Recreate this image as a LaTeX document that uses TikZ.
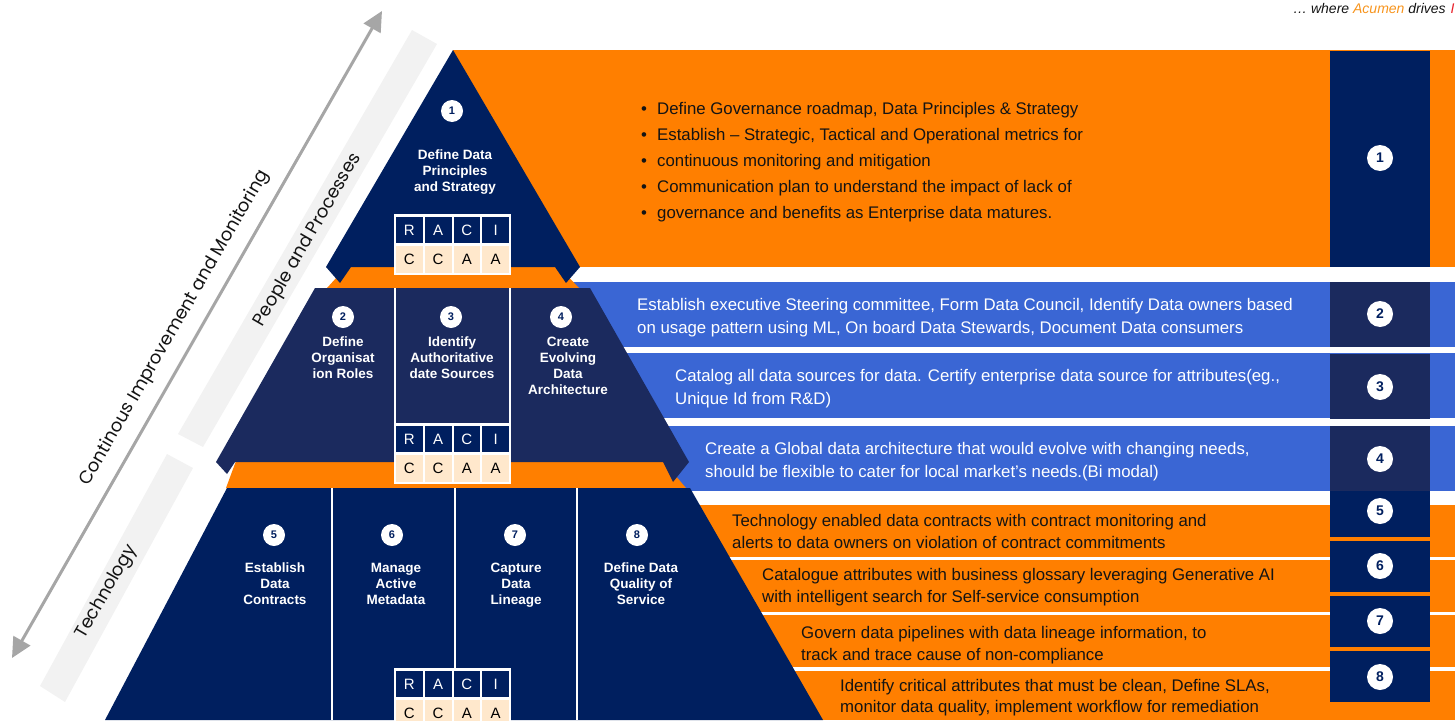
\documentclass[tikz,border=0pt]{standalone}
\usepackage{fontspec}
\setmainfont{Liberation Sans}
\newfontfamily\popfont{Poppins}
\usetikzlibrary{arrows.meta}
\definecolor{navy}{HTML}{001F5F}
\definecolor{midnavy}{HTML}{1B2A5E}
\definecolor{orng}{HTML}{FF7F00}
\definecolor{blu}{HTML}{3A66D4}
\definecolor{stripgray}{HTML}{F2F2F2}
\definecolor{arrowgray}{HTML}{A6A6A6}
\definecolor{peach}{HTML}{FFE8CC}
\definecolor{ink}{HTML}{141414}
\definecolor{acumen}{HTML}{F7941D}
\definecolor{tagred}{HTML}{E8202A}
\tikzset{
 numc/.style={circle, fill=white, inner sep=0pt, minimum size=22pt, text=navy, font=\bfseries\fontsize{11}{11}\selectfont},
 bignumc/.style={circle, fill=white, inner sep=0pt, minimum size=26pt, text=navy, font=\bfseries\fontsize{14}{14}\selectfont},
 plabel/.style={text=white, align=center, anchor=north, inner sep=0pt, font=\bfseries\fontsize{13.5}{16}\selectfont},
 racitop/.style={rectangle, fill=navy, text=white, minimum width=26.75pt, minimum height=26.75pt, inner sep=0pt, font=\fontsize{15}{15}\selectfont},
 racibot/.style={racitop, fill=peach, text=black},
 bandtxt/.style={anchor=base west, inner sep=0pt, font=\fontsize{16.8}{20}\selectfont},
 darktxt/.style={bandtxt, text=ink},
 lighttxt/.style={bandtxt, text=white},
 sidelabel/.style={rotate=60, text=ink, font=\popfont\fontsize{18}{18}\selectfont, inner sep=0pt},
 divider/.style={white, line width=2.2pt},
 tagtxt/.style={anchor=base west, inner sep=0pt, font=\itshape\fontsize{14}{14}\selectfont},
}
\newcommand\racitable[3]{%
  \fill[white] (#2,#3) rectangle ++(117,61);
  \node[racitop] (#1h1) at (#2+15.375,#3+15.875) {R};
  \node[racitop] (#1h2) at (#2+44.125,#3+15.875) {A};
  \node[racitop] (#1h3) at (#2+72.875,#3+15.875) {C};
  \node[racitop] (#1h4) at (#2+101.625,#3+15.875) {I};
  \node[racibot] (#1v1) at (#2+15.375,#3+45.125) {C};
  \node[racibot] (#1v2) at (#2+44.125,#3+45.125) {C};
  \node[racibot] (#1v3) at (#2+72.875,#3+45.125) {A};
  \node[racibot] (#1v4) at (#2+101.625,#3+45.125) {A};
}
\newcommand\bul{\makebox[16pt][l]{\textbullet}}
\begin{document}
\begin{tikzpicture}[x=1pt,y=-1pt]
\useasboundingbox (0,0) rectangle (1455,720);
% grey strips
\fill[stripgray] (412,30) -- (437,44) -- (203,447) -- (178,434) -- cycle;
\fill[stripgray] (167,454) -- (193,468) -- (65,702) -- (40,686) -- cycle;
% double arrow
\coordinate (arrTop) at (382,11);
\coordinate (arrBot) at (12,658);
\draw[arrowgray, line width=3pt, {Triangle[length=20pt,width=19pt]}-{Triangle[length=20pt,width=19pt]}] (arrBot) -- (arrTop);
\node[sidelabel] (lblCI) at (175,328) {Continous Improvement and Monitoring};
\node[sidelabel] (lblPP) at (308,240) {People and Processes};
\node[sidelabel] (lblT) at (107,592) {Technology};
% right bands
\fill[orng] (453,50) rectangle (1455,267);
\fill[blu] (560,282) rectangle (1455,347);
\fill[blu] (560,353) rectangle (1455,418);
\fill[blu] (560,426) rectangle (1455,491);
\fill[orng] (680,505) rectangle (1455,557);
\fill[orng] (680,560) rectangle (1455,612);
\fill[orng] (680,615) rectangle (1455,667);
\fill[orng] (680,671) rectangle (1455,720);
\fill[orng] (1330,505) rectangle (1430,720);
% inter-tier orange bands
\fill[orng] (347,266) -- (558,266) -- (579,288) -- (327,288) -- cycle;
\fill[orng] (236,461) -- (663,461) -- (686,488) -- (226,488) -- cycle;
% pyramid tiers
\fill[navy] (453,50) -- (580,267) -- (566,283) -- (555,267) -- (351,267) -- (340,283) -- (326,267) -- cycle;
\fill[midnavy] (315,288) -- (590,288) -- (689,462) -- (673,482) -- (663,462) -- (235,462) -- (227,474) -- (216,462) -- cycle;
\fill[navy] (227,488) -- (690,488) -- (823,720) -- (105,720) -- cycle;
% dividers
\draw[divider] (395,288) -- (395,423);
\draw[divider] (510,288) -- (510,423);
\draw[divider] (332,488) -- (332,720);
\draw[divider] (455,488) -- (455,668);
\draw[divider] (577,488) -- (577,720);
% RACI tables
\racitable{ta}{394}{214}
\racitable{tb}{394}{423}
\racitable{tc}{394}{668}
% pyramid numbers and labels
\node[numc] (p1) at (452,111) {1};
\node[numc] (p2) at (343,317) {2};
\node[numc] (p3) at (451,317) {3};
\node[numc] (p4) at (561,317) {4};
\node[numc] (p5) at (274,535) {5};
\node[numc] (p6) at (392,535) {6};
\node[numc] (p7) at (515,535) {7};
\node[numc] (p8) at (637,535) {8};
\node[plabel] (t1) at (455,150) {Define Data\\Principles\\and Strategy};
\node[plabel] (t2) at (343,337) {Define\\Organisat\\ion Roles};
\node[plabel] (t3) at (452,337) {Identify\\Authoritative\\date Sources};
\node[plabel] (t4) at (568,337) {Create\\Evolving\\Data\\Architecture};
\node[plabel] (t5) at (275,563) {Establish\\Data\\Contracts};
\node[plabel] (t6) at (396,563) {Manage\\Active\\Metadata};
\node[plabel] (t7) at (516,563) {Capture\\Data\\Lineage};
\node[plabel] (t8) at (641,563) {Define Data\\Quality of\\Service};
% right column boxes
\fill[navy] (1330,51) rectangle (1430,267);
\fill[midnavy] (1330,282) rectangle (1430,347);
\fill[midnavy] (1330,354) rectangle (1430,419);
\fill[midnavy] (1330,426) rectangle (1430,491);
\fill[navy] (1330,491) rectangle (1430,537);
\fill[navy] (1330,541) rectangle (1430,592);
\fill[navy] (1330,596) rectangle (1430,647);
\fill[navy] (1330,651) rectangle (1430,702);
\node[bignumc] (r1) at (1380,158) {1};
\node[bignumc] (r2) at (1380,314) {2};
\node[bignumc] (r3) at (1380,387) {3};
\node[bignumc] (r4) at (1380,459) {4};
\node[bignumc] (r5) at (1380,511) {5};
\node[bignumc] (r6) at (1380,566) {6};
\node[bignumc] (r7) at (1380,621) {7};
\node[bignumc] (r8) at (1380,677) {8};
% band texts
\node[darktxt] (b1a) at (641,114) {\bul Define Governance roadmap, Data Principles \& Strategy};
\node[darktxt] (b1b) at (641,140) {\bul Establish – Strategic, Tactical and Operational metrics for};
\node[darktxt] (b1c) at (641,166) {\bul continuous monitoring and mitigation};
\node[darktxt] (b1d) at (641,192) {\bul Communication plan to understand the impact of lack of};
\node[darktxt] (b1e) at (641,218) {\bul governance and benefits as Enterprise data matures.};
\node[lighttxt] (b2a) at (637,310) {Establish executive Steering committee, Form Data Council, Identify Data owners based};
\node[lighttxt] (b2b) at (637,333) {on usage pattern using ML, On board Data Stewards, Document Data consumers};
\node[lighttxt] (b3a) at (675,381) {Catalog all data sources for data. Certify enterprise data source for attributes(eg.,};
\node[lighttxt] (b3b) at (675,404) {Unique Id from R\&D)};
\node[lighttxt] (b4a) at (705,454) {Create a Global data architecture that would evolve with changing needs,};
\node[lighttxt] (b4b) at (705,477) {should be flexible to cater for local market’s needs.(Bi modal)};
\node[darktxt] (b5a) at (732,526) {Technology enabled data contracts with contract monitoring and};
\node[darktxt] (b5b) at (732,548) {alerts to data owners on violation of contract commitments};
\node[darktxt] (b6a) at (762,580) {Catalogue attributes with business glossary leveraging Generative AI};
\node[darktxt] (b6b) at (762,602) {with intelligent search for Self-service consumption};
\node[darktxt] (b7a) at (801,638) {Govern data pipelines with data lineage information, to};
\node[darktxt] (b7b) at (801,660) {track and trace cause of non-compliance};
\node[darktxt] (b8a) at (840,691) {Identify critical attributes that must be clean, Define SLAs,};
\node[darktxt] (b8b) at (840,712) {monitor data quality, implement workflow for remediation};
% tagline
\node[tagtxt, text=ink] (tag) at (1293,13.5) {\ldots{} where \textcolor{acumen}{Acumen} drives};
\node[tagtxt, text=tagred] (tagcut) at (1450.5,13.5) {I};
\end{tikzpicture}
\end{document}
